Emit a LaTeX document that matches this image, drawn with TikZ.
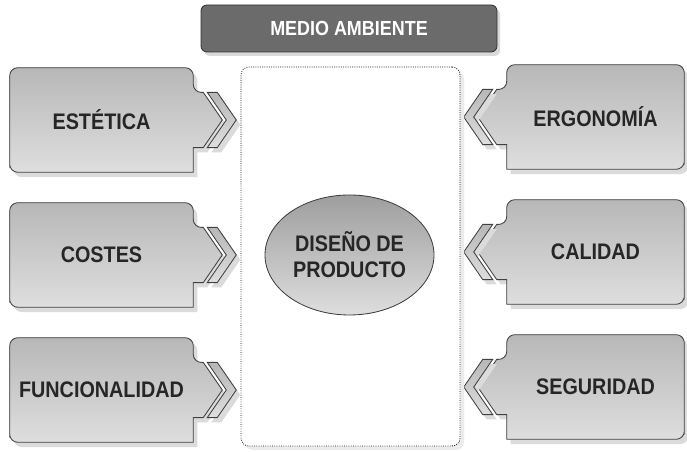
\documentclass[tikz,border=0pt]{standalone}
\usepackage{fontspec}
\setmainfont{Liberation Sans}[FakeStretch=0.88]
\usetikzlibrary{shapes,shadows,backgrounds}

\begin{document}
\begin{tikzpicture}[
    txt/.style={font=\bfseries\fontsize{16}{18.5}\selectfont, text=black!85},
    topbox/.style={rectangle, rounded corners=0.15cm, draw=black!80, line width=0.6pt, fill=black!58,
        text=white, font=\bfseries\fontsize{14.5}{16}\selectfont, minimum width=7.4cm, minimum height=1.175cm,
        drop shadow={shadow xshift=0.08cm, shadow yshift=-0.1cm, fill=black!15, opacity=1}},
    sidebox/.style={txt, rectangle, inner sep=0pt, minimum height=2.6cm},
    boxshade/.style={draw=black!75, line width=0.6pt, top color=black!28, bottom color=black!13,
        drop shadow={shadow xshift=0.1cm, shadow yshift=-0.12cm, fill=black!14, opacity=1}},
    frame/.style={rectangle, rounded corners=0.2cm, draw=black!90, line width=0.6pt, densely dotted, fill=white,
        minimum width=5.475cm, minimum height=9.475cm, inner sep=0pt,
        drop shadow={shadow xshift=0.1cm, shadow yshift=-0.1cm, fill=black!8, opacity=1}},
    centro/.style={txt, ellipse, draw=black!75, line width=0.6pt, top color=black!38, bottom color=black!13,
        minimum width=4.225cm, minimum height=3cm, inner sep=0pt, align=center}
]
    \useasboundingbox (0,0) rectangle (17.175,11.3);

    % Top banner and frame
    \node[topbox] (medio) at (8.725,10.5875) {MEDIO AMBIENTE};
    \node[frame] (marco) at (8.7625,4.8875) {};
    \node[centro] (diseno) at (8.7375,4.925) {DISEÑO DE\\PRODUCTO};

    % Left factors
    \node[sidebox, minimum width=4.575cm] (estetica) at (2.5375,8.3) {ESTÉTICA};
    \node[sidebox, minimum width=4.575cm] (costes) at (2.5375,4.925) {COSTES};
    \node[sidebox, minimum width=4.575cm] (funcional) at (2.5375,1.55) {FUNCIONALIDAD};

    % Right factors
    \node[sidebox, minimum width=4.425cm] (ergonomia) at (14.8875,8.375) {ERGONOMÍA};
    \node[sidebox, minimum width=4.425cm] (calidad) at (14.8875,5.0) {CALIDAD};
    \node[sidebox, minimum width=4.425cm] (seguridad) at (14.8875,1.625) {SEGURIDAD};

    % Box outlines with chevrons
    \begin{scope}[on background layer]
        \foreach \n in {estetica,costes,funcional} {
            \shade[boxshade] (\n.south west) [rounded corners=0.2cm] -- (\n.north west) -- (\n.north east)
                -- ([yshift=0.69cm]\n.east) [sharp corners] -- ++(0.25,0) -- ([xshift=0.725cm]\n.east)
                -- ++(-0.475,-0.69) -- ++(-0.25,0) -- (\n.south east) [rounded corners=0.2cm] -- (\n.south west) -- cycle;
            \shade[boxshade] ([xshift=0.35cm,yshift=0.69cm]\n.east) -- ++(0.25,0) -- ([xshift=1.075cm]\n.east)
                -- ++(-0.475,-0.69) -- ++(-0.25,0) -- ([xshift=0.825cm]\n.east) -- cycle;
        }
        \foreach \n in {ergonomia,calidad,seguridad} {
            \shade[boxshade] (\n.south east) [rounded corners=0.2cm] -- (\n.north east) -- (\n.north west)
                -- ([yshift=0.69cm]\n.west) [sharp corners] -- ++(-0.25,0) -- ([xshift=-0.725cm]\n.west)
                -- ++(0.475,-0.69) -- ++(0.25,0) -- (\n.south west) [rounded corners=0.2cm] -- (\n.south east) -- cycle;
            \shade[boxshade] ([xshift=-0.35cm,yshift=0.69cm]\n.west) -- ++(-0.25,0) -- ([xshift=-1.075cm]\n.west)
                -- ++(0.475,-0.69) -- ++(0.25,0) -- ([xshift=-0.825cm]\n.west) -- cycle;
        }
    \end{scope}
\end{tikzpicture}
\end{document}
